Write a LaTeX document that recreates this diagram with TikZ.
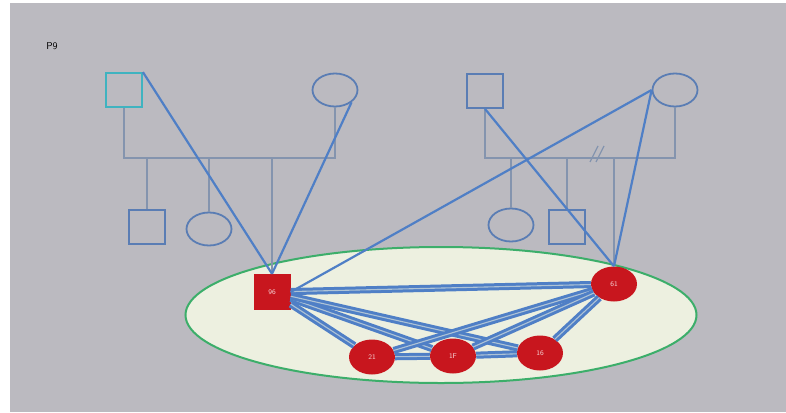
\documentclass[tikz,border=0pt]{standalone}
\usepackage{tikz}
\usetikzlibrary{shapes,arrows,positioning,shapes.geometric,calc}
\definecolor{bggrey}{HTML}{BBBAC0}
\definecolor{treeline}{HTML}{8494AE}
\definecolor{pedblue}{HTML}{5A7DB4}
\definecolor{linkblue}{HTML}{4F7FC6}
\definecolor{casered}{HTML}{C8161E}
\definecolor{ringgreen}{HTML}{3CAE6A}
\definecolor{ringfill}{HTML}{EDF0E0}
\definecolor{founder}{HTML}{3FB3C0}

\begin{document}
\begin{tikzpicture}[x=1pt, y=-1pt,
    male/.style={draw=pedblue, line width=1.8pt, rectangle, minimum width=36pt, minimum height=34pt, inner sep=0pt},
    female/.style={draw=pedblue, line width=1.8pt, ellipse, minimum width=45pt, minimum height=33pt, inner sep=0pt},
    redmale/.style={fill=casered, rectangle, minimum width=37pt, minimum height=36pt, inner sep=0pt, text=white!80!casered, font=\scriptsize\sffamily},
    redfemale/.style={fill=casered, ellipse, minimum width=46pt, minimum height=35pt, inner sep=0pt, text=white!80!casered, font=\scriptsize\sffamily},
    tree/.style={draw=treeline, line width=1.2pt},
    link/.style={draw=linkblue, line width=2.2pt},
    share/.style={draw=linkblue, line width=3pt, double=ringfill!60!linkblue, double distance=1.1pt}]
    \useasboundingbox (0,0) rectangle (786,412);
    \fill[white] (0,0) rectangle (786,412);
    \fill[bggrey] (10,3) rectangle (786,412);
    \node [font=\sffamily] (title) at (52,46) {P9};

    % left family
    \node [male, draw=founder] (f1) at (124,90) {};
    \node [female] (m1) at (335,90) {};
    \node [male] (s1) at (147,227) {};
    \node [female] (d1) at (209,229) {};
    % right family
    \node [male] (f2) at (485,91) {};
    \node [female] (m2) at (675,90) {};
    \node [female] (d2) at (511,225) {};
    \node [male] (s2) at (567,227) {};

    % cluster
    \node [ellipse, draw=ringgreen, fill=ringfill, line width=2pt, minimum width=511pt, minimum height=136pt] (ring) at (441,315) {};

    \node [redmale] (c96) at (272,292) {96};
    \node [redfemale] (c61) at (614,284) {61};
    \node [redfemale] (c21) at (372,357) {21};
    \node [redfemale] (c1F) at (453,356) {1F};
    \node [redfemale] (c16) at (540,353) {16};

    % sibships
    \coordinate (j1) at (124,158);
    \coordinate (j2) at (485,158);
    \draw [tree] (f1) -- (j1) -- (m1.south |- j1) -- (m1);
    \draw [tree] (s1.north |- j1) -- (s1);
    \draw [tree] (d1.north |- j1) -- (d1);
    \draw [tree] (c96.north |- j1) -- (c96);
    \draw [tree] (f2) -- (j2) -- (m2.south |- j2) -- (m2);
    \draw [tree] (d2.north |- j2) -- (d2);
    \draw [tree] (s2.north |- j2) -- (s2);
    \draw [tree] (c61.north |- j2) -- (c61);
    \draw [tree] (590,162) -- (598,146) (596,162) -- (604,146);

    % haplotype sharing
    \path [every edge/.style={share}]
        (c96) edge (c61)
        (c96) edge (c21)
        (c96) edge (c1F)
        (c96) edge (c16)
        (c61) edge (c21)
        (c61) edge (c1F)
        (c61) edge (c16)
        (c21) edge (c1F)
        (c1F) edge (c16);

    \path [every edge/.style={link}]
        (f1.north east) edge (c96.north)
        (m1.south east) edge (c96.north)
        (m2.west) edge (c96.east)
        (m2.west) edge (c61.north)
        (f2.south) edge (c61.north);
\end{tikzpicture}
\end{document}
